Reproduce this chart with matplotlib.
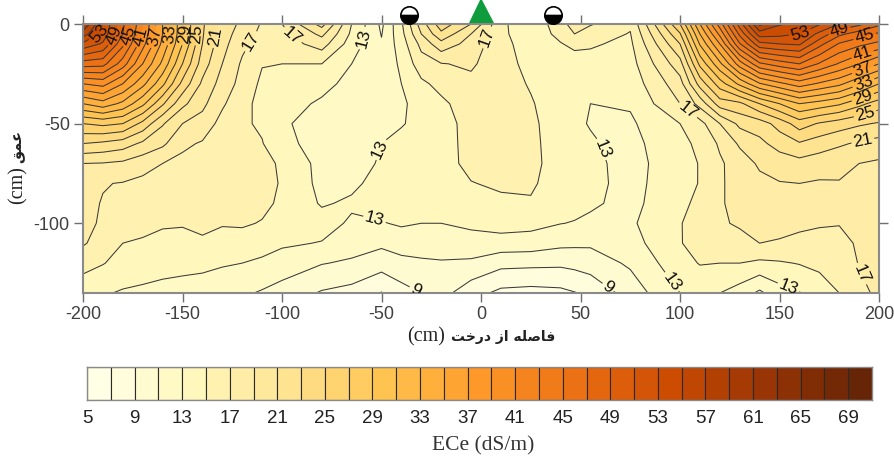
import numpy as np
import matplotlib
matplotlib.use('Agg')
import matplotlib.pyplot as plt

# distance from tree (cm) and depth (cm)
x_cols = [-200, -190, -180, -170, -160, -150, -140, -130, -120, -110, -100, -80, -65, -50, -40, -30, -20, -5,
          10, 25, 40, 47, 55, 75, 100, 110, 120, 130, 140, 150, 160, 170, 180, 190, 200]
depths = [0, -5, -10, -20, -30, -40, -50, -60, -70, -80, -90, -100, -110, -120, -135]

# ECe, one list per x position, top to bottom
ece_m200 = [59, 56, 52.5, 46, 39, 33, 27, 23, 19, 17.4, 17.5, 17.6, 17.2, 15.8, 13.6]
ece_m190 = [53, 52.3, 50.7, 45.7, 39.7, 34.2, 27.5, 22.6, 18.9, 17.1, 16.9, 16.7, 16.2, 15.1, 13.2]
ece_m180 = [47.5, 47, 45.5, 42, 37, 32.5, 27, 22, 18.6, 16.9, 16.3, 15.8, 15, 14.3, 12.8]
ece_m170 = [41, 40.5, 39.7, 37, 33.6, 29.5, 24.4, 20.6, 17.8, 16.5, 16, 15.5, 14.8, 14, 12.6]
ece_m160 = [35, 35, 34.5, 32.5, 29.5, 25.3, 21.2, 19.4, 17, 16.2, 15.8, 15.2, 14.5, 13.7, 12.4]
ece_m150 = [29.6, 29.5, 29, 27, 24.4, 21.5, 19, 17.4, 16.5, 16, 15.7, 15.1, 14.6, 13.6, 12.2]
ece_m140 = [23.3, 23.2, 23, 22, 20.6, 19.5, 18.2, 16.8, 16.2, 15.8, 15.6, 15.3, 14.8, 13.5, 12]
ece_m130 = [20.3, 20, 19.7, 19, 18.2, 17.3, 16.3, 15.9, 15.8, 15.7, 15.6, 15.1, 14.5, 13.2, 11.7]
ece_m120 = [18.5, 18, 17.5, 16.7, 16.3, 15.6, 15.3, 15.3, 15.5, 15.6, 15.6, 15.2, 14.3, 13, 11.3]
ece_m110 = [16.8, 16.5, 16, 15.1, 14.6, 14.4, 14.7, 15.1, 15.4, 15.4, 15.4, 14.9, 13.9, 12.6, 10.8]
ece_m100 = [17, 16.4, 15.9, 15, 14.3, 13.8, 13.2, 13.5, 14.8, 14.9, 14.7, 14.6, 13.3, 12.1, 10.2]
ece_m80 = [21.8, 19.5, 17.9, 15, 13.6, 12.7, 12.4, 12.3, 12.3, 12.4, 12.8, 13.8, 12.9, 11.1, 8.8]
ece_m65 = [15, 14.6, 14, 13, 12.4, 12, 11.9, 11.8, 11.9, 12.6, 13.3, 12.7, 11.9, 10.7, 8.3]
ece_m50 = [10.6, 10.9, 11.2, 11.5, 11.6, 11.7, 12.2, 13, 13.3, 13.7, 13.7, 12.9, 11.4, 9.9, 6.9]
ece_m40 = [14.7, 14.4, 14, 13.4, 13, 12.7, 12.9, 13.4, 13.8, 14, 13.9, 13.2, 12.1, 10.3, 8.3]
ece_m30 = [20, 19, 17.6, 16.1, 14.6, 13.7, 13.4, 13.3, 13.6, 14, 14.2, 13, 11.9, 10.7, 9]
ece_m20 = [24.2, 22.5, 20.3, 16.9, 15.6, 14.6, 14.1, 14, 14, 14.2, 14.4, 13, 12.1, 10.8, 9.7]
ece_m5 = [21, 19, 18.2, 17.3, 16.5, 16, 15.8, 15.8, 15.7, 14.9, 14.4, 13.3, 12.4, 10.6, 7.8]
ece_p10 = [15.4, 15.4, 15.6, 15.8, 16, 16, 16, 16, 16, 15.4, 14.5, 13.8, 12.2, 9.6, 6.5]
ece_p25 = [13.7, 13.9, 14.1, 14.4, 14.8, 15.2, 15.5, 15.6, 15.6, 15.3, 14.8, 13.6, 12.1, 9.5, 6.3]
ece_p40 = [16, 15.5, 14.9, 14, 13.8, 13.7, 13.7, 13.8, 14, 14, 13.8, 13.05, 11.5, 9.4, 6.5]
ece_p47 = [18.2, 17, 15.4, 14.2, 13.8, 13.5, 13.3, 13.5, 13.7, 13.7, 13.6, 12.9, 11.4, 9.6, 6.9]
ece_p55 = [17.2, 15.9, 15.2, 14.4, 13.8, 13, 12.9, 13.2, 13.5, 13.5, 13.3, 12.6, 11.3, 10, 7.4]
ece_p75 = [15.3, 14.9, 14.6, 14.2, 13.8, 13.2, 12.7, 12.4, 12.3, 12.4, 12.4, 12.7, 12.2, 11.3, 9.9]
ece_p100 = [27, 24.8, 23, 20.2, 18.2, 17, 15, 14.5, 14.2, 14.2, 14.6, 14.9, 14.9, 14.3, 13]
ece_p110 = [35, 33, 31.2, 27.5, 23.8, 19.7, 16.3, 15.4, 15.1, 15.1, 15.4, 15.8, 15.7, 15.1, 13.6]
ece_p120 = [42, 39.5, 37, 32.5, 28, 24, 19, 17.3, 16.7, 16.7, 16.7, 16.7, 16.2, 15, 13]
ece_p130 = [50, 47.5, 44.8, 38, 31.5, 24.5, 21.5, 19.3, 18, 17.9, 17.9, 17.3, 16.2, 15, 12.1]
ece_p140 = [57.5, 54, 50.4, 42.6, 34.8, 27, 22, 20.5, 19.3, 18.5, 18.2, 18, 17, 14.6, 10.6]
ece_p150 = [55.2, 53.6, 51, 44, 36.5, 29, 23.8, 21.8, 19.9, 18.9, 18.2, 17.7, 16.8, 14.8, 12.2]
ece_p160 = [54.5, 53, 51.3, 45, 38, 31, 26, 22.8, 20.3, 19, 18, 17.4, 16.5, 15.1, 12.9]
ece_p170 = [53.2, 50.5, 47.7, 42.8, 36.7, 30.2, 24.8, 22, 19.9, 18.8, 18, 17.2, 16.3, 15.4, 14.1]
ece_p180 = [51, 47.5, 44.8, 40.8, 35.5, 29.3, 24, 21.3, 19.5, 18.9, 18.3, 17.1, 16.3, 15.8, 15]
ece_p190 = [49.5, 46, 43.5, 39, 33.3, 27.6, 23.3, 20.7, 19, 18.5, 18.3, 17.6, 17.3, 17.1, 16.6]
ece_p200 = [47.5, 44.6, 42.5, 37, 31, 26, 22.8, 20.2, 18.7, 18.5, 18.3, 18.2, 18, 17.7, 17.3]

levels = list(range(5, 73, 2))
legend_ticks = list(range(5, 70, 4))

# contour labels: level, x, depth
label_spots = [
    (53, -189, -6.5), (49, -183, -6.5), (45, -176, -6.5), (41, -170, -6.5), (37, -164, -6.5),
    (33, -156, -5), (29, -149, -5), (25, -142, -5), (21, -132, -6.5), (17, -119, -6.5),
    (17, -95, -6), (13, -60, -7), (13, -53, -62), (17, 4, -7), (13, 60, -63),
    (17, 105, -42), (53, 160, -4), (49, 180, -3), (45, 193, -7), (41, 192, -16),
    (37, 192, -23), (33, 192, -29), (29, 192, -37), (25, 193, -45), (21, 192, -59),
    (13, -54, -100), (9, -32, -132), (9, 64, -132), (13, 95, -130), (13, 155, -131),
    (17, 192, -125),
]

# trees and emitters above the section
emitter_x = [-36, 36]
emitter_y = [4.5, 4.5]
tree_x = [0]
tree_y = [7]

# labels in presentation forms, visual order, since matplotlib does not shape Arabic script
xlabel_fa = '\ufe96\ufea7\ufead\ufea9 \ufeaf\ufe8d \ufeea\ufee0\ufebb\ufe8e\ufed3'
ylabel_fa = '\ufed6\ufee4\ufecb'

plt.rcParams['font.family'] = ['Liberation Sans', 'DejaVu Sans']
plt.rcParams['axes.unicode_minus'] = False

ece = np.array([ece_m200, ece_m190, ece_m180, ece_m170, ece_m160, ece_m150, ece_m140, ece_m130, ece_m120,
                ece_m110, ece_m100, ece_m80, ece_m65, ece_m50, ece_m40, ece_m30, ece_m20, ece_m5,
                ece_p10, ece_p25, ece_p40, ece_p47, ece_p55, ece_p75, ece_p100, ece_p110, ece_p120,
                ece_p130, ece_p140, ece_p150, ece_p160, ece_p170, ece_p180, ece_p190, ece_p200]).T

cmap = plt.get_cmap('YlOrBr').resampled(len(levels) - 1)
W, H = 894, 463
fig = plt.figure(figsize=(W / 100, H / 100), dpi=100)
ax = fig.add_axes([83 / W, (H - 293) / H, 796 / W, 269 / H])

ax.contourf(x_cols, depths, ece, levels=levels, cmap=cmap)

# one contour set per level, clabel with a levels subset does not work with manual spots
level_sets = {}
for level in levels:
    if ece.min() < level < ece.max():
        level_sets[level] = ax.contour(x_cols, depths, ece, levels=[level], colors='#3a3a3a', linewidths=0.75)
for level, lx, ly in label_spots:
    ax.clabel(level_sets[level], manual=[(lx, ly)], fmt='%d', fontsize=12.5, colors='#111111', inline=True, inline_spacing=2)

ax.set_xlim(-200, 200)
ax.set_ylim(-135, 0)
ax.set_xticks(range(-200, 201, 50))
ax.set_yticks([0, -50, -100])
ax.tick_params(axis='both', which='both', top=True, right=True, direction='out', length=6.5, width=1,
               color='#707070', labelcolor='#404040', labelsize=13, pad=3)
for s in ax.spines.values():
    s.set_color('#8a8a8a')
    s.set_linewidth(1.5)

ax.plot(emitter_x, emitter_y, ls='none', marker='o', ms=12.5, mew=1.2, mec='black', mfc='black',
        fillstyle='bottom', markerfacecoloralt='white', clip_on=False, zorder=6)
ax.plot(tree_x, tree_y, ls='none', marker='^', ms=18, mew=0, color='#0e9c3c', clip_on=False, zorder=6)

fig.text(426 / W, 1 - 337 / H, '(cm)', family='Liberation Serif', fontsize=14.5, color='#222222', ha='center', va='center')
fig.text(503 / W, 1 - 337 / H, xlabel_fa, family='DejaVu Sans', fontweight='bold', fontsize=10, color='#222222', ha='center', va='center')
fig.text(18 / W, 1 - 185 / H, '(cm)', family='Liberation Serif', fontsize=14.5, color='#222222', rotation=90, ha='center', va='center')
fig.text(18 / W, 1 - 146 / H, ylabel_fa, family='DejaVu Sans', fontweight='bold', fontsize=10.5, color='#222222', rotation=90, ha='center', va='center')
fig.text(483 / W, 1 - 446 / H, 'ECe (dS/m)', family='Liberation Serif', fontsize=15.5, color='#333333', ha='center', va='center')

# colour key
cax = fig.add_axes([87 / W, (H - 400) / H, 785 / W, 33 / H])
key_left = levels[:-1]
cax.bar(key_left, [1] * len(key_left), width=2, align='edge', color=[cmap(i) for i in range(len(key_left))],
        edgecolor='#2a2a2a', linewidth=0.8)
cax.set_xlim(5, 71)
cax.set_ylim(0, 1)
cax.set_yticks([])
cax.set_xticks(legend_ticks)
cax.tick_params(axis='x', length=0, labelsize=13.5, labelcolor='#222222', pad=7)
for s in cax.spines.values():
    s.set_color('#8a8a8a')
    s.set_linewidth(1)

fig.savefig('out.png', dpi=100)
